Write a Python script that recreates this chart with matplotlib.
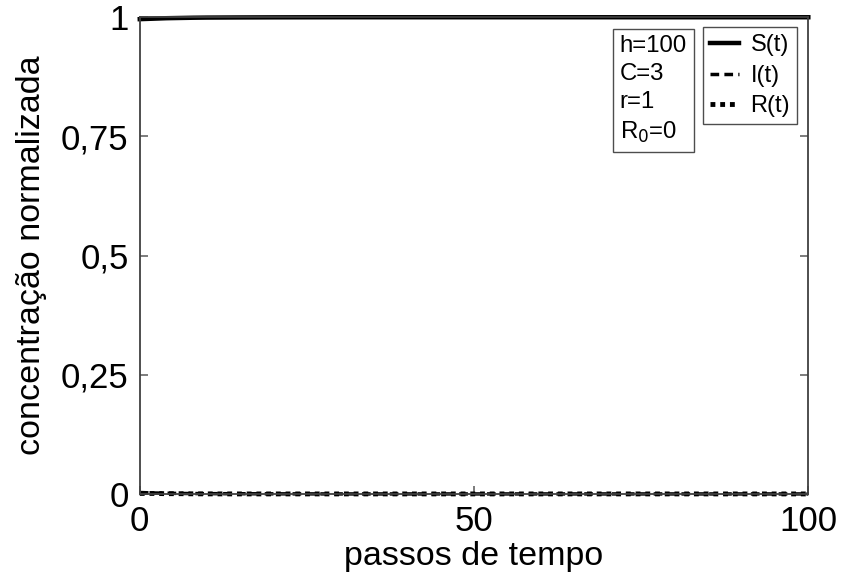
import numpy as np
import matplotlib.pyplot as plt

plt.rcParams['font.family'] = ['Liberation Sans', 'DejaVu Sans']

# time steps and normalised concentrations
t = [0, 2, 4, 6, 8, 10, 15, 20, 30, 40, 50, 60, 70, 80, 90, 100]
S = [0.996, 0.997, 0.998, 0.9985, 0.999, 0.9993, 0.9996, 0.9998, 1.0, 1.0, 1.0, 1.0, 1.0, 1.0, 1.0, 1.0]
I = [0.003, 0.002, 0.0015, 0.001, 0.0008, 0.0006, 0.0004, 0.0002, 0.0, 0.0, 0.0, 0.0, 0.0, 0.0, 0.0, 0.0]
R = [0.001, 0.001, 0.0005, 0.0005, 0.0002, 0.0001, 0.0, 0.0, 0.0, 0.0, 0.0, 0.0, 0.0, 0.0, 0.0, 0.0]

xticks = [0, 50, 100]
yticks = [0, 0.25, 0.5, 0.75, 1]
ytick_labels = ['0', '0,25', '0,5', '0,75', '1']

fig = plt.figure(figsize=(8.42, 5.75), dpi=100)
ax = fig.add_axes([0.166, 0.141, 0.794, 0.829])

ax.plot(t, S, color='black', lw=3.2, ls='-', label='S(t)', clip_on=False)
ax.plot(t, I, color='black', lw=2.5, ls=(0, (2.5, 1.5)), label='I(t)', clip_on=False)
ax.plot(t, R, color='black', lw=3.5, ls=(0, (1, 1)), label='R(t)', clip_on=False)

ax.set_xlim(0, 100)
ax.set_ylim(0, 1)
ax.set_xticks(xticks)
ax.set_yticks(yticks)
ax.set_yticklabels(ytick_labels)
ax.tick_params(direction='in', length=6, width=1.2, color='0.4',
               labelsize=25, left=True, right=True, bottom=True, top=False,
               pad=8)
for sp in ax.spines.values():
    sp.set_linewidth(1.3)
    sp.set_color('0.25')

ax.set_xlabel('passos de tempo', fontsize=24.5, labelpad=2)
ax.set_ylabel('concentração normalizada', fontsize=24.5, labelpad=10)

ax.text(0.718, 0.963, 'h=100\nC=3\nr=1\nR$_0$=0', transform=ax.transAxes,
        fontsize=17.3, ha='left', va='top', linespacing=1.36,
        bbox=dict(boxstyle='square,pad=0.3', fc='white', ec='0.3', lw=1))

leg = ax.legend(loc='upper right', bbox_to_anchor=(0.9835, 0.979),
                fontsize=17, handlelength=1.2, handletextpad=0.5,
                labelspacing=0.36, borderpad=0.3, borderaxespad=0,
                fancybox=False, edgecolor='0.3', framealpha=1,
                markerfirst=True)
leg.get_frame().set_linewidth(1)

fig.savefig('out.png', dpi=100)
